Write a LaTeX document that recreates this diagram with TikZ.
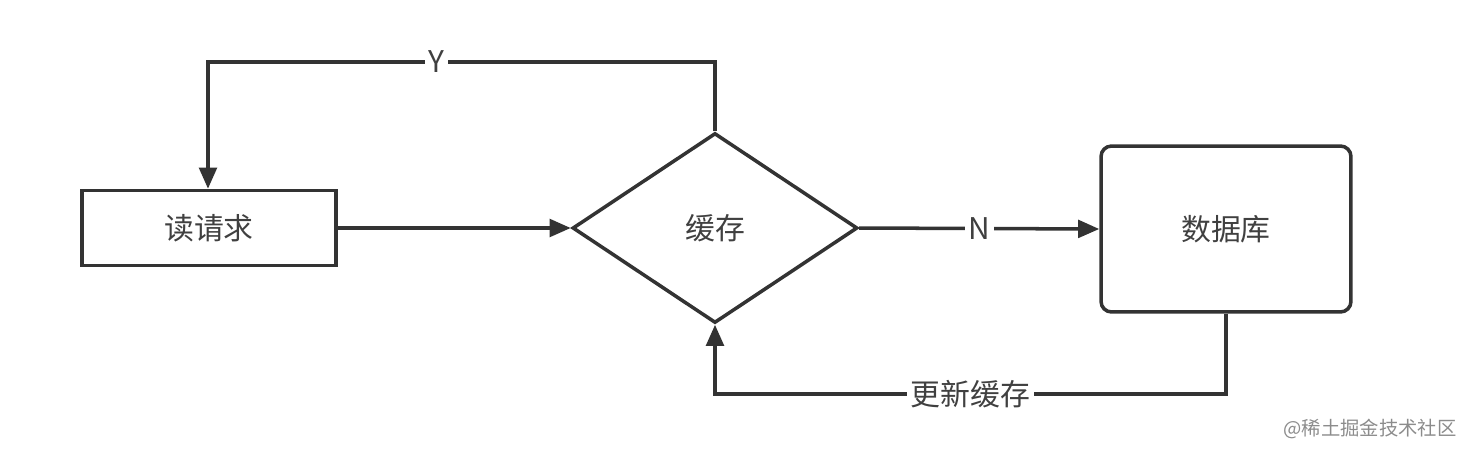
\documentclass[tikz,border=0pt]{standalone}
\usepackage{fontspec}
\newfontfamily\cjk{Noto Sans CJK SC}
\usetikzlibrary{shapes.geometric,arrows.meta}
\begin{document}
\begin{tikzpicture}[x=0.02cm,y=-0.02cm,
    line/.style={draw=black!80,line width=2pt},
    arr/.style={line,-{Triangle[length=12pt,width=10pt]}},
    box/.style={line,minimum width=5.08cm,minimum height=1.5cm,inner sep=0pt,font=\cjk\fontsize{17}{19}\selectfont,text=black!75},
    lbl/.style={fill=white,inner sep=2pt,font=\cjk\fontsize{17}{19}\selectfont,text=black!75}]
\useasboundingbox (0,0) rectangle (1464,454);
% nodes
\node[box] (req) at (209,228) {读请求};
\node[box,diamond,minimum width=5.7cm,minimum height=3.8cm] (cache) at (715,228) {缓存};
\node[box,rounded corners=6pt,minimum width=5cm,minimum height=3.32cm] (db) at (1226,229) {数据库};
\coordinate (ytop) at (715,62);
\coordinate (yleft) at (208,62);
\coordinate (bright) at (1226,394);
\coordinate (bleft) at (715,394);
% connectors
\draw[arr] (req) -- (cache);
\draw[arr] (cache.north) -- (ytop) -- node[lbl,pos=0.55] {Y} (yleft) -- (req.north -| yleft);
\draw[arr] (cache.east) -- node[lbl,pos=0.5] {N} (db.west);
\draw[arr] (db.south -| bright) -- (bright) -- node[lbl,pos=0.5] {更新缓存} (bleft) -- (cache.south);
% watermark
\node[font=\cjk\fontsize{11}{12}\selectfont,text=black!45] (wm) at (1370,429) {@稀土掘金技术社区};
\end{tikzpicture}
\end{document}
